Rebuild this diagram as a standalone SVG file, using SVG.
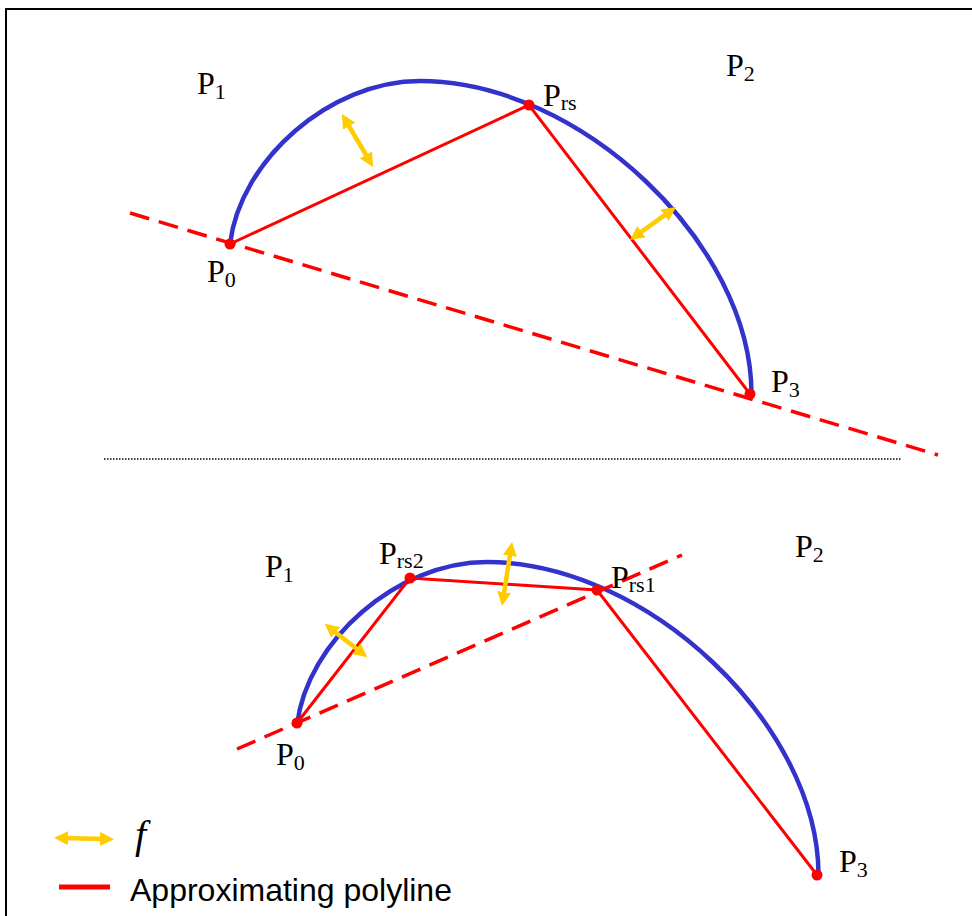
<svg xmlns="http://www.w3.org/2000/svg" width="972" height="916" viewBox="0 0 972 916">
<style>
.curve{fill:none;stroke:#3333cc;stroke-width:4.5}
.poly{fill:none;stroke:#ff0000;stroke-width:3}
.dash{fill:none;stroke:#ff0000;stroke-width:3.5;stroke-dasharray:20 10}
.dot{fill:#ff0000}
.farr{fill:none;stroke:#ffcc00;stroke-width:4.5;marker-start:url(#ah);marker-end:url(#ah)}
.lbl{font-family:"Liberation Serif","Times New Roman",serif;font-size:32px;fill:#000}
.sub{font-size:22px}
</style>
<defs>
<marker id="ah" viewBox="0 0 14 14" markerUnits="userSpaceOnUse" markerWidth="14" markerHeight="14" refX="6" refY="7" orient="auto-start-reverse">
<path d="M0,0 L14,7 L0,14 z" fill="#ffcc00"/>
</marker>
</defs>
<rect x="6" y="9" width="990" height="930" fill="#fff" stroke="#000" stroke-width="2"/>
<line x1="104" y1="459" x2="901" y2="459" stroke="#000" stroke-width="1.5" stroke-dasharray="1.5 1.5"/>

<g id="top">
<g id="top-curve"><path class="curve" d="M230,244 C240,160 330,81 420,81 C580,81 751.5,244 751.5,394"/></g>
<g id="connectors-top">
<line class="dash" x1="130" y1="213" x2="938" y2="455"/>
<polyline class="poly" points="230,244 529,105 750,394"/>
<line class="farr" x1="346" y1="121" x2="369" y2="160"/>
<line class="farr" x1="636.5" y1="235.3" x2="669.5" y2="211.7"/>
</g>
<g id="top-P0"><circle class="dot" cx="230" cy="244" r="5.5"/><text class="lbl" x="207" y="282">P<tspan class="sub" dy="5">0</tspan></text></g>
<g id="top-Prs"><circle class="dot" cx="529" cy="105" r="5.5"/><text class="lbl" x="543" y="106">P<tspan class="sub" dy="4">rs</tspan></text></g>
<g id="top-P3"><circle class="dot" cx="750" cy="394" r="5.5"/><text class="lbl" x="771" y="392">P<tspan class="sub" dy="5">3</tspan></text></g>
<g id="top-P1"><text class="lbl" x="197" y="94">P<tspan class="sub" dy="5">1</tspan></text></g>
<g id="top-P2"><text class="lbl" x="726" y="76">P<tspan class="sub" dy="5">2</tspan></text></g>
</g>

<g id="bottom">
<g id="bottom-curve"><path class="curve" d="M297,725 C307,641 397,562 487,562 C647,562 818.5,725 818.5,875"/></g>
<g id="connectors-bottom">
<line class="dash" x1="237" y1="749" x2="682" y2="555"/>
<polyline class="poly" points="297,723 410,578 597,590 817,875"/>
<line class="farr" x1="331" y1="628.7" x2="361" y2="652.3"/>
<line class="farr" x1="510.8" y1="549.9" x2="503.2" y2="598.1"/>
</g>
<g id="bot-P0"><circle class="dot" cx="297" cy="723" r="5.5"/><text class="lbl" x="276" y="765">P<tspan class="sub" dy="5">0</tspan></text></g>
<g id="bot-Prs2"><circle class="dot" cx="410" cy="578" r="5.5"/><text class="lbl" x="379" y="564">P<tspan class="sub" dy="4">rs2</tspan></text></g>
<g id="bot-Prs1"><circle class="dot" cx="597" cy="590" r="5.5"/><text class="lbl" x="611" y="588">P<tspan class="sub" dy="4">rs1</tspan></text></g>
<g id="bot-P3"><circle class="dot" cx="817" cy="875" r="5.5"/><text class="lbl" x="839" y="872">P<tspan class="sub" dy="5">3</tspan></text></g>
<g id="bot-P1"><text class="lbl" x="265" y="577">P<tspan class="sub" dy="5">1</tspan></text></g>
<g id="bot-P2"><text class="lbl" x="795" y="557">P<tspan class="sub" dy="5">2</tspan></text></g>
</g>

<g id="legend">
<g id="legend-f"><line class="farr" x1="62" y1="838" x2="106" y2="839"/><text x="135" y="848" font-family="Liberation Serif,Times New Roman,serif" font-style="italic" font-size="40">f</text></g>
<g id="legend-poly"><line x1="59" y1="887" x2="110" y2="887" stroke="#ff0000" stroke-width="5"/><text x="130" y="901" font-family="Liberation Sans,Arial,sans-serif" font-size="32">Approximating polyline</text></g>
</g>
</svg>
